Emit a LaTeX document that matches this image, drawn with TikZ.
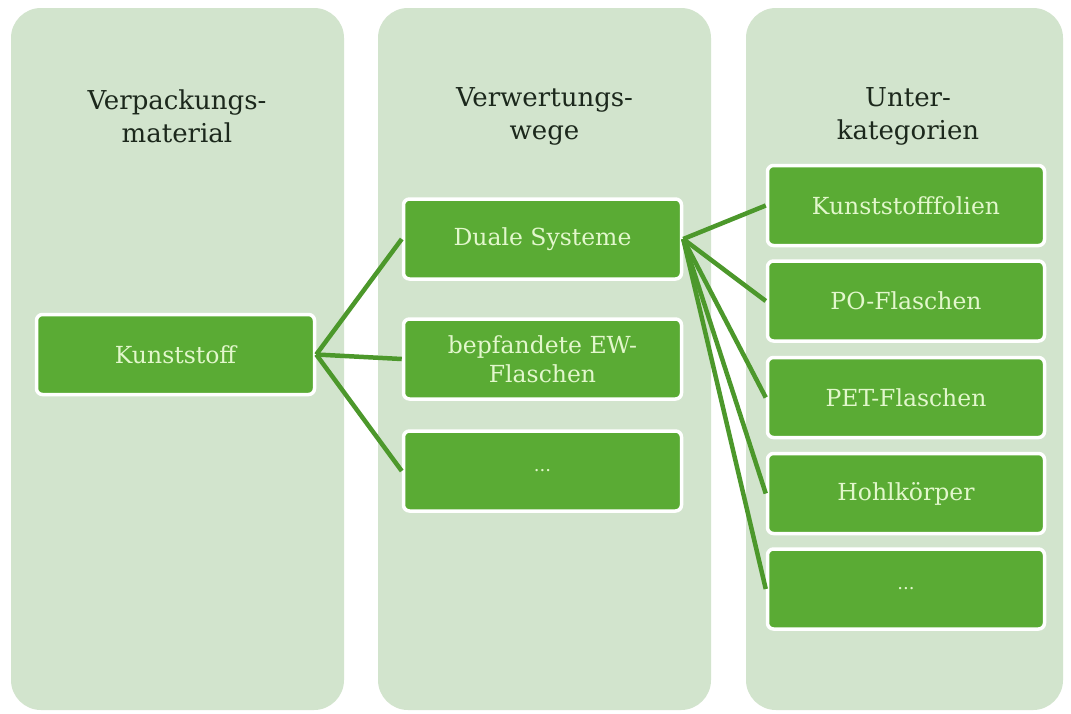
\documentclass[tikz,border=0pt]{standalone}
\usepackage{fontspec}
\setmainfont{DejaVu Serif}
\definecolor{colbg}{HTML}{D2E4CD}
\definecolor{boxfill}{HTML}{5AAB34}
\definecolor{boxtext}{HTML}{E2F7CC}
\definecolor{linec}{HTML}{4C982B}
\definecolor{headc}{HTML}{1C281C}
\begin{document}
\begin{tikzpicture}[x=1pt,y=-1pt,
  colbox/.style={fill=colbg, draw=none, rounded corners=30pt, inner sep=0pt},
  head/.style={text=headc, align=center, font=\fontsize{26}{33}\selectfont},
  gbox/.style={fill=boxfill, draw=white, line width=3.5pt, rounded corners=6pt,
    minimum width=278pt, minimum height=80pt, inner sep=2pt, align=center,
    text=boxtext, font=\fontsize{23.5}{29}\selectfont},
  gboxr/.style={gbox, minimum width=277pt},
  dots/.style={font=\fontsize{18}{20}\selectfont},
  conn/.style={draw=linec, line width=4.5pt}]
\useasboundingbox (0,0) rectangle (1071,713);
\fill[white] (0,0) rectangle (1071,713);
% columns
\node[colbox, minimum width=333pt, minimum height=702pt] (col1) at (177.5,359) {};
\node[colbox, minimum width=333pt, minimum height=702pt] (col2) at (544.5,359) {};
\node[colbox, minimum width=317pt, minimum height=702pt] (col3) at (904.5,359) {};
% headings
\node[head] (h1) at (177,116) {Verpackungs-\\material};
\node[head] (h2) at (544.5,116) {Verwertungs-\\wege};
\node[head] (h3) at (908,116) {Unter-\\kategorien};
% boxes
\node[gbox] (k) at (175.5,354.5) {Kunststoff};
\node[gbox] (d) at (542.5,239) {Duale Systeme};
\node[gbox] (b) at (542.5,359) {bepfandete EW-\\Flaschen};
\node[gbox, dots] (e1) at (542.5,471) {...};
\node[gboxr] (u1) at (906,205.5) {Kunststofffolien};
\node[gboxr] (u2) at (906,301) {PO-Flaschen};
\node[gboxr] (u3) at (906,397.5) {PET-Flaschen};
\node[gboxr] (u4) at (906,493.5) {Hohlkörper};
\node[gboxr, dots] (u5) at (906,589) {...};
% connectors
\draw[conn] (k.east) -- (d.west);
\draw[conn] (k.east) -- (b.west);
\draw[conn] (k.east) -- (e1.west);
\draw[conn] (d.east) -- (u1.west);
\draw[conn] (d.east) -- (u2.west);
\draw[conn] (d.east) -- (u3.west);
\draw[conn] (d.east) -- (u4.west);
\draw[conn] (d.east) -- (u5.west);
\end{tikzpicture}
\end{document}
